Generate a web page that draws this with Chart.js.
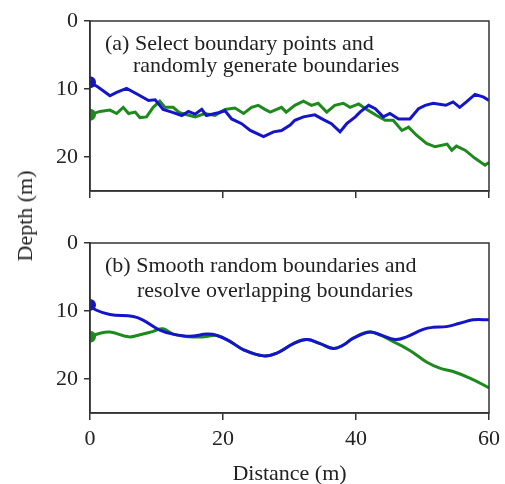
<!DOCTYPE html>
<html>
<head>
<meta charset="utf-8">
<script src="https://cdn.jsdelivr.net/npm/chart.js@4.4.1/dist/chart.umd.min.js"></script>
<style>
  body { margin: 0; background: #fff; overflow: hidden; }
  #wrap { position: relative; width: 505px; height: 484px; overflow: hidden; }
  #chartA { position: absolute; left: 0; top: 0; }
  #chartB { position: absolute; left: 0; top: 222px; }
  #ylabel {
    position: absolute; left: 25px; top: 216px;
    transform: translate(-50%, -50%) rotate(-90deg);
    font: 22px 'Liberation Serif', serif; color: #222; white-space: nowrap;
  }
</style>
</head>
<body>
<div id="wrap">
  <canvas id="chartA" width="505" height="200"></canvas>
  <canvas id="chartB" width="505" height="265"></canvas>
  <div id="ylabel">Depth (m)</div>
</div>
<script>
// eixos
const xTicks = [0, 20, 40, 60];
const yTicks = [0, 10, 20];
const xTitle = 'Distance (m)';

// painel (a): fronteiras aleatórias
const blueAX = [0, 1.2, 3.0, 4.0, 5.5, 7.2, 8.8, 9.8, 11.0, 12.3, 13.8, 14.8, 15.8, 16.8, 17.5, 19.3, 20.3, 21.3, 22.8, 24.1, 26.1, 27.6, 28.8, 30.1, 30.8, 32.1, 33.8, 35.1, 36.3, 37.6, 38.6, 39.9, 40.6, 41.9, 42.9, 44.1, 45.1, 46.4, 48.1, 49.4, 50.4, 51.6, 53.5, 54.6, 55.6, 56.6, 57.9, 59.2, 60];
const blueAY = [9.0, 9.7, 11.0, 10.5, 9.9, 10.8, 11.7, 11.6, 13.0, 13.4, 13.9, 13.3, 13.7, 13.0, 13.9, 13.5, 13.2, 14.4, 15.1, 16.1, 17.0, 16.3, 16.1, 15.3, 14.6, 14.1, 13.8, 14.5, 15.1, 16.3, 15.1, 14.1, 13.4, 12.4, 12.9, 14.1, 13.6, 14.4, 14.4, 12.9, 12.4, 12.1, 12.4, 11.9, 12.7, 11.9, 10.8, 11.2, 11.7];
const greenAX = [0, 1.5, 3.0, 4.0, 5.0, 5.8, 6.8, 7.5, 8.5, 9.5, 10.5, 11.3, 12.5, 13.5, 15.8, 17.3, 18.8, 20.3, 21.8, 23.1, 24.3, 25.3, 26.3, 27.1, 28.8, 29.5, 30.8, 32.1, 33.3, 34.3, 35.6, 36.8, 38.1, 39.1, 40.4, 41.6, 43.1, 44.4, 45.6, 46.9, 47.9, 49.1, 50.6, 51.9, 53.7, 54.4, 55.1, 56.4, 57.9, 59.4, 60];
const greenAY = [13.8, 13.3, 13.1, 13.6, 12.7, 13.6, 13.4, 14.2, 14.1, 12.7, 11.8, 12.7, 12.7, 13.5, 14.1, 13.6, 13.9, 13.0, 12.8, 13.6, 12.7, 12.4, 13.0, 13.4, 12.7, 13.4, 12.4, 11.8, 12.4, 12.1, 13.4, 12.4, 12.1, 12.7, 12.2, 13.0, 13.9, 14.6, 14.6, 16.1, 15.6, 16.8, 18.0, 18.5, 18.1, 19.0, 18.4, 19.0, 20.2, 21.2, 20.8];

// painel (b): fronteiras suavizadas
const blueBX = [0, 0.9, 3.0, 6.5, 7.9, 10.5, 12.5, 15.0, 17.6, 19.1, 21.1, 23.1, 26.1, 28.1, 30.6, 32.6, 34.6, 36.6, 38.1, 39.6, 42.1, 43.6, 45.9, 47.6, 50.1, 51.6, 53.6, 55.6, 57.6, 60];
const blueBY = [9.1, 9.85, 10.5, 10.8, 11.3, 12.8, 13.4, 13.7, 13.4, 13.6, 14.5, 15.7, 16.6, 16.2, 14.8, 14.2, 14.8, 15.5, 15.0, 14.0, 13.1, 13.5, 14.2, 13.8, 12.7, 12.4, 12.3, 11.8, 11.3, 11.3];
const greenBX = [0, 1.4, 3.0, 5.8, 7.5, 9.5, 11.0, 12.5, 15.0, 17.1, 19.1, 21.1, 23.1, 26.1, 28.1, 30.6, 32.6, 34.6, 36.6, 38.1, 39.6, 42.1, 45.6, 48.1, 50.6, 52.6, 54.6, 57.2, 60];
const greenBY = [13.8, 13.3, 13.1, 13.8, 13.5, 13.0, 12.6, 13.4, 13.8, 13.8, 13.6, 14.5, 15.7, 16.6, 16.2, 14.8, 14.2, 14.8, 15.5, 15.0, 14.0, 13.1, 14.5, 15.8, 17.5, 18.4, 18.9, 19.9, 21.3];

const textA = ['(a) Select boundary points and', 'randomly generate boundaries'];
const textB = ['(b) Smooth random boundaries and', 'resolve overlapping boundaries'];

const BLUE = '#1414c8';
const GREEN = '#1e8a1e';
const AXIS = '#333333';

Chart.defaults.font.family = "'Liberation Serif', serif";
Chart.defaults.font.size = 22;
Chart.defaults.color = '#222';

function pts(xs, ys) {
  return xs.map((x, i) => ({ x: x, y: ys[i] }));
}

function serie(xs, ys, color, tension) {
  return {
    data: pts(xs, ys),
    borderColor: color,
    backgroundColor: color,
    borderWidth: 3,
    tension: tension,
    clip: 0,
    pointRadius: (ctx) => ctx.dataIndex === 0 ? 6 : 0,
    pointBorderWidth: 0,
  };
}

// moldura + texto do painel
function framePlugin(lines, dx2, gap) {
  return {
    id: 'frame',
    afterDraw(chart) {
      const { ctx, chartArea: a } = chart;
      ctx.save();
      ctx.strokeStyle = AXIS;
      ctx.lineWidth = 1.5;
      ctx.strokeRect(a.left, a.top, a.right - a.left, a.bottom - a.top);
      ctx.fillStyle = '#222';
      ctx.font = "22px 'Liberation Serif', serif";
      ctx.textBaseline = 'middle';
      ctx.fillText(lines[0], a.left + 15, a.top + 23);
      ctx.fillText(lines[1], a.left + 15 + dx2, a.top + 23 + gap);
      ctx.restore();
    }
  };
}

function makeChart(id, datasets, lines, dx2, gap, bottomH, showX) {
  return new Chart(document.getElementById(id), {
    type: 'line',
    data: { datasets: datasets },
    options: {
      responsive: false,
      animation: false,
      layout: { padding: { top: 21, right: 16, left: 0, bottom: 0 } },
      plugins: { legend: { display: false }, tooltip: { enabled: false } },
      scales: {
        x: {
          type: 'linear', min: 0, max: 60,
          afterBuildTicks: (s) => { s.ticks = xTicks.map(v => ({ value: v })); },
          afterFit: (s) => { s.height = bottomH; s.paddingLeft = 0; s.paddingRight = 0; },
          ticks: { display: showX, padding: 6, color: '#222' },
          grid: { drawOnChartArea: false, drawTicks: true, tickLength: 7, color: AXIS, lineWidth: 1.5 },
          border: { display: true, color: AXIS, width: 1.5 },
          title: { display: showX, text: xTitle, color: '#222', padding: { top: 4, bottom: 0 } },
        },
        y: {
          type: 'linear', min: 0, max: 25, reverse: true,
          afterBuildTicks: (s) => { s.ticks = yTicks.map(v => ({ value: v })); },
          afterFit: (s) => { s.width = 90; s.paddingTop = 0; s.paddingBottom = 0; },
          ticks: { padding: 6, color: '#222' },
          grid: { drawOnChartArea: false, drawTicks: true, tickLength: 6, color: AXIS, lineWidth: 1.5 },
          border: { display: true, color: AXIS, width: 1.5 },
        },
      },
    },
    plugins: [framePlugin(lines, dx2, gap)],
  });
}

makeChart('chartA', [serie(blueAX, blueAY, BLUE, 0), serie(greenAX, greenAY, GREEN, 0)], textA, 28, 22, 200 - 191, false);
makeChart('chartB', [serie(blueBX, blueBY, BLUE, 0.4), serie(greenBX, greenBY, GREEN, 0.4)], textB, 32, 25, 265 - 191, true);
</script>
</body>
</html>
